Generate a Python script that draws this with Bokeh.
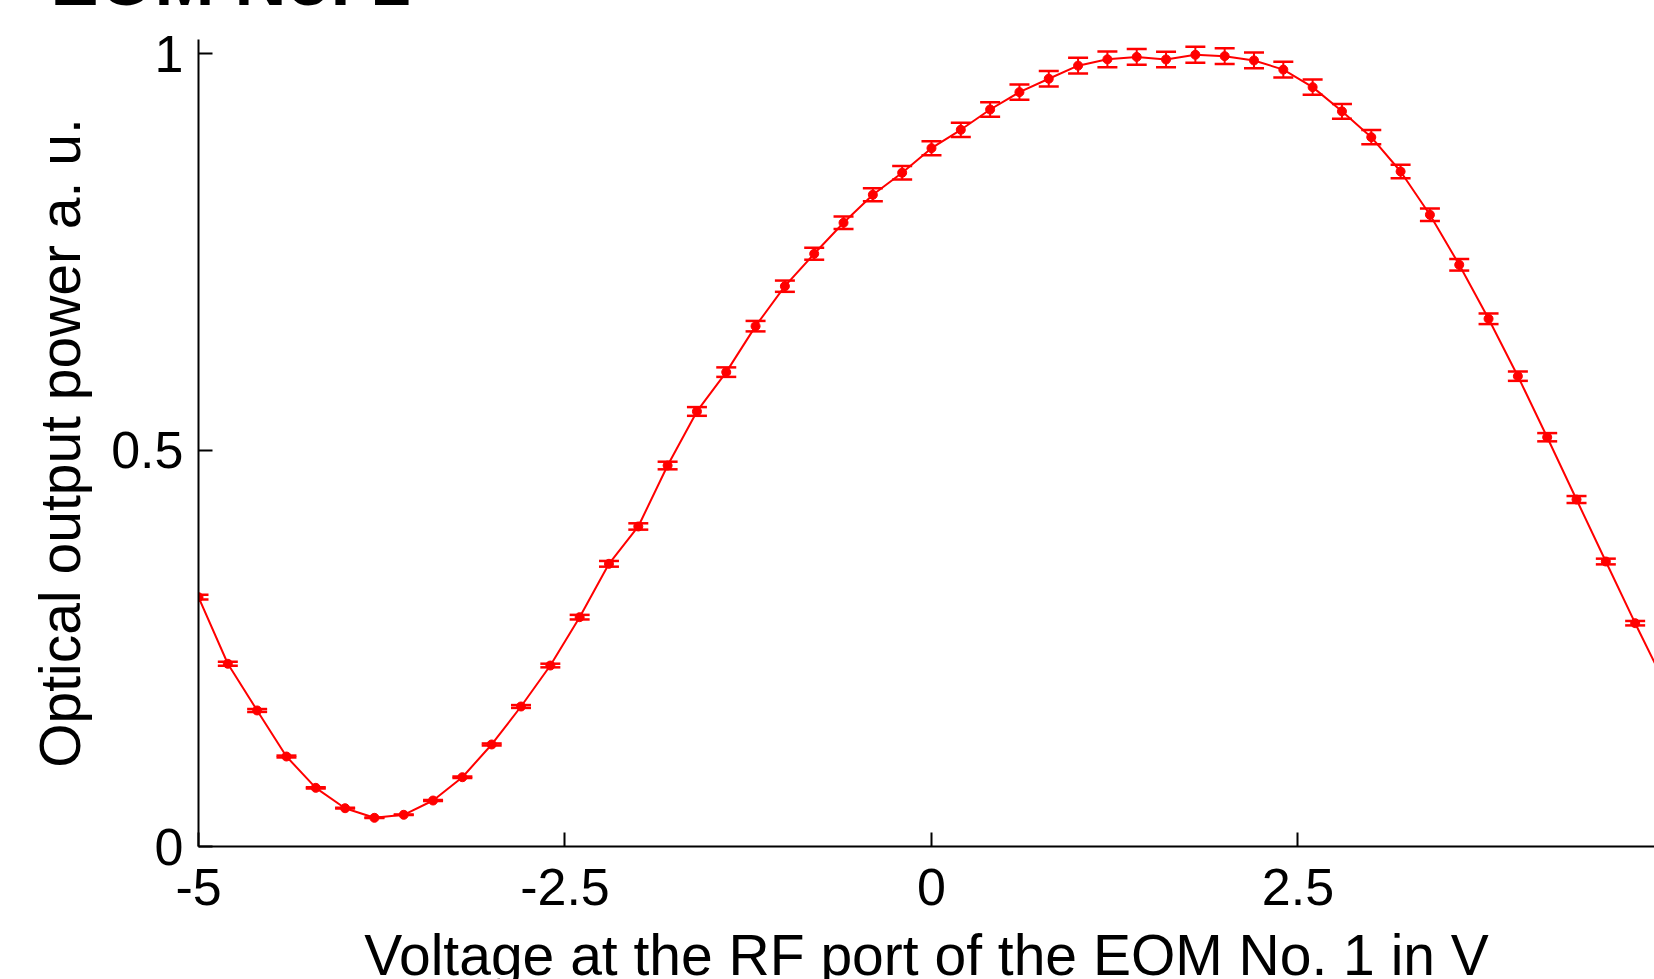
from bokeh.plotting import figure
from bokeh.models import (ColumnDataSource, Whisker, TeeHead, FixedTicker,
                          PrintfTickFormatter, Range1d, GlobalInlineStyleSheet)
from bokeh.embed import file_html
from bokeh.resources import INLINE

# ---- data ----
voltage = [-5.0, -4.8, -4.6, -4.4, -4.2, -4.0, -3.8, -3.6, -3.4, -3.2,
           -3.0, -2.8, -2.6, -2.4, -2.2, -2.0, -1.8, -1.6, -1.4, -1.2,
           -1.0, -0.8, -0.6, -0.4, -0.2, 0.0, 0.2, 0.4, 0.6, 0.8,
           1.0, 1.2, 1.4, 1.6, 1.8, 2.0, 2.2, 2.4, 2.6, 2.8,
           3.0, 3.2, 3.4, 3.6, 3.8, 4.0, 4.2, 4.4, 4.6, 4.8, 5.0]
power = [0.3145, 0.2305, 0.1716, 0.1135, 0.0740, 0.0483, 0.0362, 0.0400, 0.0580, 0.0874,
         0.1287, 0.1766, 0.2283, 0.2893, 0.3566, 0.4037, 0.4806, 0.5488, 0.5984, 0.6564,
         0.7068, 0.7477, 0.7868, 0.8221, 0.8499, 0.8809, 0.9041, 0.9297, 0.9516, 0.9685,
         0.9850, 0.9930, 0.9960, 0.9928, 0.9987, 0.9970, 0.9916, 0.9800, 0.9579, 0.9274,
         0.8948, 0.8515, 0.7969, 0.7338, 0.6657, 0.5933, 0.5163, 0.4377, 0.3595, 0.2817, 0.2064]
error = [0.0030, 0.0025, 0.0018, 0.0012, 0.0008, 0.0005, 0.0004, 0.0004, 0.0006, 0.0009,
         0.0013, 0.0018, 0.0023, 0.0029, 0.0036, 0.0040, 0.0048, 0.0055, 0.0060, 0.0066,
         0.0071, 0.0075, 0.0079, 0.0082, 0.0085, 0.0088, 0.0090, 0.0093, 0.0095, 0.0097,
         0.0099, 0.0099, 0.0100, 0.0099, 0.0100, 0.0100, 0.0099, 0.0098, 0.0096, 0.0093,
         0.0089, 0.0085, 0.0080, 0.0073, 0.0067, 0.0059, 0.0052, 0.0044, 0.0036, 0.0028, 0.0021]
x_ticks = [-5, -2.5, 0, 2.5, 5]
y_ticks = [0, 0.5, 1]
title_text = "EOM No. 1"
x_label = "Voltage at the RF port of the EOM No. 1 in V"
y_label = "Optical output power a. u."

src = ColumnDataSource(dict(
    x=voltage, y=power,
    upper=[v + e for v, e in zip(power, error)],
    lower=[v - e for v, e in zip(power, error)],
))

RED = "#ff0000"
FONT = "Liberation Sans"
SHIFT = 111  # page is moved up so that the frame top lands at y=39

p = figure(width=1654, height=1020 + SHIFT, output_backend="svg", toolbar_location=None,
           x_range=Range1d(-5, 4.932), y_range=Range1d(0, 1.018),
           min_border_left=198, min_border_right=0, min_border_top=39 + SHIFT,
           min_border_bottom=174)
p.stylesheets = [GlobalInlineStyleSheet(
    css="html {overflow:hidden !important; height:auto !important;} "
        "body {margin:0 !important; padding:0 !important; height:auto !important; "
        "overflow:visible !important; margin-top:-%dpx !important;}" % SHIFT)]

p.title.text = title_text
p.title.align = "left"
p.title.offset = -148
p.title.standoff = 40
p.title.vertical_align = "bottom"
p.title.text_font = FONT
p.title.text_font_size = "72px"
p.title.text_font_style = "bold"
p.title.text_color = "black"

p.outline_line_color = None
p.grid.visible = False
p.background_fill_color = "white"
p.border_fill_color = "white"

for ax in (p.xaxis[0], p.yaxis[0]):
    ax.axis_line_width = 2
    ax.axis_line_color = "black"
    ax.major_tick_line_width = 2
    ax.major_tick_line_color = "black"
    ax.major_tick_in = 14
    ax.major_tick_out = 0
    ax.minor_tick_line_color = None
    ax.major_label_text_font = FONT
    ax.major_label_text_font_size = "52px"
    ax.major_label_text_color = "black"
    ax.axis_label_text_font = FONT
    ax.axis_label_text_font_size = "57px"
    ax.axis_label_text_font_style = "normal"
    ax.axis_label_text_color = "black"
    ax.formatter = PrintfTickFormatter(format="%g")

p.xaxis.ticker = FixedTicker(ticks=x_ticks)
p.yaxis.ticker = FixedTicker(ticks=y_ticks)
p.xaxis.axis_label = x_label
p.yaxis.axis_label = y_label
p.xaxis.major_label_standoff = 22
p.xaxis.axis_label_standoff = 15
p.yaxis.major_label_standoff = 15
p.yaxis.axis_label_standoff = 16

p.line("x", "y", source=src, line_color=RED, line_width=2)
wh = Whisker(base="x", upper="upper", lower="lower", source=src,
             line_color=RED, line_width=2,
             upper_head=TeeHead(size=20, line_color=RED, line_width=2.5),
             lower_head=TeeHead(size=20, line_color=RED, line_width=2.5))
p.add_layout(wh)
p.scatter("x", "y", source=src, marker="circle", size=9,
          fill_color=RED, line_color=RED)

open("out.html", "w").write(file_html(p, INLINE))
